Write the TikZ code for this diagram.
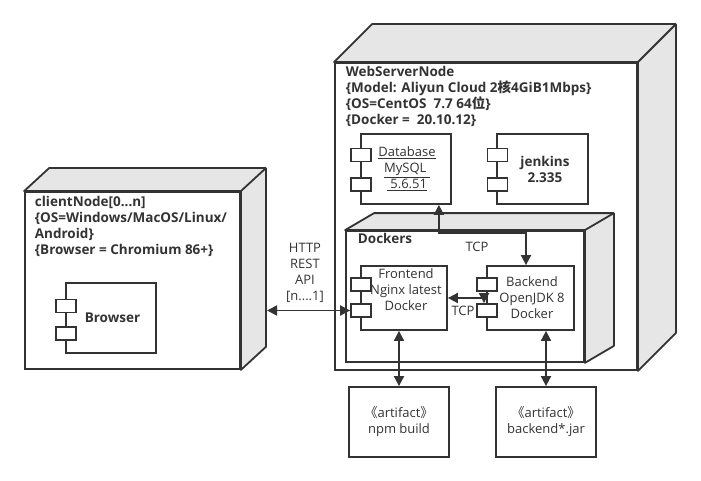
\documentclass[tikz,border=0pt]{standalone}
\usepackage{fontspec}
\setmainfont{Open Sans}
\newfontfamily\cjk{Noto Sans CJK SC}
\usetikzlibrary{arrows.meta}
\definecolor{linecol}{HTML}{333333}
\definecolor{sidecol}{HTML}{E6E6E6}
\begin{document}
\begin{tikzpicture}[x=1pt,y=-1pt,>={Triangle[length=10pt,width=10pt]},line width=1.8pt,color=linecol,font=\fontsize{13}{16}\selectfont,
box/.style={draw,fill=white,inner sep=0pt,align=center},
port/.style={draw,fill=white,minimum width=20pt,minimum height=13pt,inner sep=0pt},
face/.style={draw,fill=sidecol,line join=round},
title/.style={inner sep=0pt,anchor=north west,align=left,font=\fontsize{13.5}{16}\selectfont\bfseries},
lbl/.style={inner sep=0pt,align=center}]
\useasboundingbox (0,0) rectangle (701,481);
\node[box,minimum width=215pt,minimum height=177pt] (client) at (132.5,280.5) {};
\draw[face] (client.north west) -- ([shift={(25pt,23pt)}]client.north west) -- ([shift={(25pt,23pt)}]client.north east) -- ([shift={(25pt,23pt)}]client.south east) -- (client.south east) -- (client.north east) -- cycle;
\draw[line join=round] (client.north east) -- ([shift={(25pt,23pt)}]client.north east);
\node[title] (clienttxt) at (34,195) {clientNode[0...n]\\\{OS=Windows/MacOS/Linux/\\Android\}\\\{Browser = Chromium 86+\}};
\node[box,minimum width=90pt,minimum height=70pt,font=\fontsize{13.5}{16}\selectfont\bfseries] (browser) at (111,318) {\hspace*{3pt}Browser};
\node[port] (brp1) at (66,306) {};
\node[port] (brp2) at (66,333.5) {};
\node[box,minimum width=302pt,minimum height=307pt] (web) at (486,216.5) {};
\draw[face] (web.north west) -- ([shift={(38pt,38pt)}]web.north west) -- ([shift={(38pt,38pt)}]web.north east) -- ([shift={(38pt,38pt)}]web.south east) -- (web.south east) -- (web.north east) -- cycle;
\draw[line join=round] (web.north east) -- ([shift={(38pt,38pt)}]web.north east);
\node[title] (webtxt) at (345,65) {WebServerNode\\\{Model: Aliyun Cloud 2{\cjk 核}4GiB1Mbps\}\\\{OS=CentOS\ \ 7.7 64{\cjk 位}\}\\\{Docker = \ 20.10.12\}};
\node[box,minimum width=90pt,minimum height=70pt] (db) at (406,169) {\hspace*{2pt}\underline{Database}\\\hspace*{2pt}\underline{MySQL\ }\\\hspace*{2pt}\underline{\ 5.6.51}};
\node[port] (dbp1) at (361,155) {};
\node[port] (dbp2) at (361,184.5) {};
\node[box,minimum width=91pt,minimum height=70pt,font=\fontsize{13.5}{16}\selectfont\bfseries] (jenkins) at (542.5,169) {\hspace*{5pt}jenkins\\\hspace*{5pt}2.335};
\node[port] (jkp1) at (497.5,155) {};
\node[port] (jkp2) at (497.5,184.5) {};
\node[box,minimum width=238pt,minimum height=131pt] (dockers) at (465,296.5) {};
\draw[face] (dockers.north west) -- ([shift={(29pt,17pt)}]dockers.north west) -- ([shift={(29pt,17pt)}]dockers.north east) -- ([shift={(29pt,17pt)}]dockers.south east) -- (dockers.south east) -- (dockers.north east) -- cycle;
\draw[line join=round] (dockers.north east) -- ([shift={(29pt,17pt)}]dockers.north east);
\node[title,anchor=base west] (dockerstxt) at (357,243.5) {Dockers};
\node[box,minimum width=86pt,minimum height=64pt] (frontend) at (404,298) {};
\node[lbl] (fetxt) at (406,290) {Frontend\\Nginx latest\\Docker};
\node[port] (fep1) at (361,284.5) {};
\node[port] (fep2) at (361,310.5) {};
\node[box,minimum width=87pt,minimum height=64pt] (backend) at (530.5,298) {\hspace*{3pt}Backend\\\hspace*{3pt}OpenJDK 8\\\hspace*{3pt}Docker};
\node[port] (bep1) at (487,284.5) {};
\node[port] (bep2) at (487,310.5) {};
\node[box,minimum width=100pt,minimum height=70pt] (npm) at (399,422) {{\cjk 《}artifact{\cjk 》}\\npm build};
\node[box,minimum width=100pt,minimum height=70pt] (jar) at (546,422) {{\cjk 《}artifact{\cjk 》}\\backend*.jar};
\node[lbl] (httplbl) at (305,273) {HTTP\\REST\\API\\{[n....1]}};
\node[lbl] (tcplbl1) at (477,247) {TCP};
\node[lbl] (tcplbl2) at (463,311) {TCP};
\coordinate (cside) at (267,310.5);
\draw[<->] (cside) -- (fep2.west);
\draw[<->] ([xshift=-13pt]db.south east) -- ++(0,28) -| ([xshift=-4.5pt]backend.north);
\draw[<->] (frontend.east) -| ([xshift=-3pt]bep2.north);
\draw[<->] (npm.north |- frontend.south) -- (npm.north);
\draw[<->] (jar.north |- backend.south) -- (jar.north);
\end{tikzpicture}
\end{document}
